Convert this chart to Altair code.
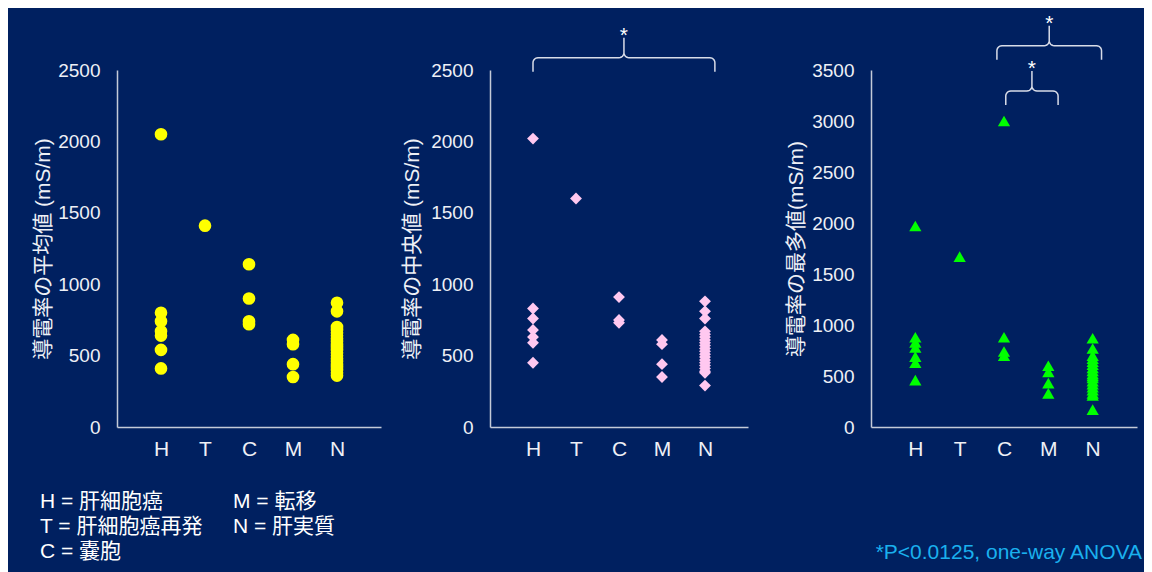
import math
import altair as alt
import pandas as pd

# ---------------- data ----------------
categories = ["H", "T", "C", "M", "N"]

mean_H = [2050, 800, 740, 670, 640, 540, 410]
mean_T = [1410]
mean_C = [1140, 900, 740, 720]
mean_M = [610, 580, 440, 350]
mean_N = [870, 810, 700, 680, 660, 640, 620, 600, 580, 560, 540, 520, 500,
          480, 460, 440, 420, 400, 380, 360]

median_H = [2020, 830, 760, 680, 630, 590, 450]
median_T = [1600]
median_C = [910, 750, 730]
median_M = [610, 580, 440, 350]
median_N = [880, 810, 760, 670, 650, 630, 610, 590, 570, 550, 530, 510, 490,
            470, 450, 430, 410, 390, 380, 290]

mode_H = [1970, 880, 830, 780, 690, 630, 460]
mode_T = [1670]
mode_C = [3000, 880, 740, 700]
mode_M = [600, 540, 430, 330]
mode_N = [870, 770, 700, 670, 640, 610, 580, 550, 520, 500, 480, 450, 420,
          390, 360, 330, 310, 170]

mean_ticks = [0, 500, 1000, 1500, 2000, 2500]
median_ticks = [0, 500, 1000, 1500, 2000, 2500]
mode_ticks = [0, 500, 1000, 1500, 2000, 2500, 3000, 3500]

mean_title = "導電率の平均値 (mS/m)"
median_title = "導電率の中央値 (mS/m)"
mode_title = "導電率の最多値(mS/m)"

# significance brackets: (from category index, to category index, level)
median_brackets = [(0.0, 4.23, 2586)]
mode_brackets = [(1.84, 4.2, 3738), (2.04, 3.22, 3294)]

legend_col1 = ["H = 肝細胞癌", "T = 肝細胞癌再発", "C = 嚢胞"]
legend_col2 = ["M = 転移", "N = 肝実質"]
note_text = "*P<0.0125, one-way ANOVA"

# ---------------- style ----------------
BG = "#002060"
AXIS_C = "#c4cad8"
TEXT_C = "#eef0f6"
FONT = "Liberation Sans, Noto Sans CJK JP"
PH = 357          # plot height
TOP = 62          # extent above plot
BOTTOM = 502      # extent below plot top

label_expr = "[" + ",".join("'%s'" % c for c in categories) + "][datum.value]"


def make_df(groups):
    rows = []
    for i, vals in enumerate(groups):
        for v in vals:
            rows.append({"idx": i, "value": v})
    return pd.DataFrame(rows)


def brace_df(brackets, px_x, px_y, drop=14, rise=20, r=5, n=6):
    rows = []
    for g, (lo, hi, lvl) in enumerate(brackets):
        rx, ry = r / px_x, r / px_y
        dd, dr = drop / px_y, rise / px_y
        xm = (lo + hi) / 2
        pts = [(lo, lvl - dd)]
        for k in range(n + 1):
            t = math.pi - (math.pi / 2) * k / n
            pts.append((lo + rx + rx * math.cos(t), lvl - ry + ry * math.sin(t)))
        for k in range(n + 1):
            t = -math.pi / 2 + (math.pi / 2) * k / n
            pts.append((xm - rx + rx * math.cos(t), lvl + ry + ry * math.sin(t)))
        pts.append((xm, lvl + dr))
        for k in range(n + 1):
            t = math.pi + (math.pi / 2) * k / n
            pts.append((xm + rx + rx * math.cos(t), lvl + ry + ry * math.sin(t)))
        for k in range(n + 1):
            t = math.pi / 2 - (math.pi / 2) * k / n
            pts.append((hi - rx + rx * math.cos(t), lvl - ry + ry * math.sin(t)))
        pts.append((hi, lvl - dd))
        for s, (x, y) in enumerate(pts):
            rows.append({"idx": x, "value": y, "seq": s, "grp": g})
    return pd.DataFrame(rows)


def panel(groups, ticks, title, color, shape, size, width, title_pad,
          left_ext, right_ext, brackets=(), extra=()):
    ymax = ticks[-1]
    xs = alt.Scale(domain=[-1, len(categories)], nice=False, zero=False)
    ys = alt.Scale(domain=[0, ymax], nice=False, zero=True)
    xenc = alt.X("idx:Q", scale=xs,
                 axis=alt.Axis(values=list(range(len(categories))),
                               labelExpr=label_expr, title=None, ticks=False,
                               grid=False, labelPadding=11, labelFontSize=21,
                               labelFlush=False))
    yenc = alt.Y("value:Q", scale=ys,
                 axis=alt.Axis(values=ticks, format="d", title=title,
                               titlePadding=title_pad, ticks=False, grid=False,
                               labelPadding=17, labelFontSize=19,
                               titleFontSize=21, titleFontWeight="normal"))
    # invisible frame fixing each panel's outer extent
    spacer = alt.Chart(pd.DataFrame({"k": [0]})).mark_rule(
        strokeOpacity=0, opacity=0).encode(
        x=alt.value(-left_ext), x2=alt.value(right_ext),
        y=alt.value(-TOP), y2=alt.value(BOTTOM))
    pts = alt.Chart(make_df(groups)).mark_point(
        filled=True, shape=shape, size=size, color=color, opacity=1,
        strokeWidth=0).encode(x=xenc, y=yenc)
    layers = [spacer, pts]
    if brackets:
        px_x = width / (len(categories) + 1)
        px_y = PH / ymax
        bd = brace_df(brackets, px_x, px_y)
        layers.append(alt.Chart(bd).mark_line(color="#d8dce8", strokeWidth=1.5).encode(
            x=xenc, y=yenc, order="seq:Q", detail="grp:N"))
        sd = pd.DataFrame([{"idx": (lo + hi) / 2, "value": lvl + 16 / px_y}
                           for lo, hi, lvl in brackets])
        layers.append(alt.Chart(sd).mark_text(
            text="*", fontSize=21, color="#ffffff", font=FONT,
            baseline="alphabetic").encode(x=xenc, y=yenc))
    layers.extend(extra)
    return alt.layer(*layers).properties(width=width, height=PH)


one = pd.DataFrame({"k": [0]})
legend_layers = []
for i, t in enumerate(legend_col1):
    legend_layers.append(alt.Chart(one).mark_text(
        text=t, fontSize=21, color="#ffffff", font=FONT, align="left",
        baseline="middle").encode(x=alt.value(-77), y=alt.value(432 + 25 * i)))
for i, t in enumerate(legend_col2):
    legend_layers.append(alt.Chart(one).mark_text(
        text=t, fontSize=21, color="#ffffff", font=FONT, align="left",
        baseline="middle").encode(x=alt.value(116), y=alt.value(432 + 25 * i)))

note_layer = alt.Chart(one).mark_text(
    text=note_text, fontSize=21, color="#1ab0ee", font=FONT, align="right",
    baseline="middle").encode(x=alt.value(271), y=alt.value(483))

p1 = panel([mean_H, mean_T, mean_C, mean_M, mean_N], mean_ticks, mean_title,
           "#ffff00", "circle", 160, 264, 4, 109, 269, extra=legend_layers)
p2 = panel([median_H, median_T, median_C, median_M, median_N], median_ticks,
           median_title, "#ffc8f0", "diamond", 140, 258, 8, 103, 275,
           brackets=median_brackets)
p3 = panel([mode_H, mode_T, mode_C, mode_M, mode_N], mode_ticks, mode_title,
           "#00ff00", "triangle-up", 150, 266, 5, 105, 273,
           brackets=mode_brackets, extra=[note_layer])

chart = alt.hconcat(p1, p2, p3, spacing=1).properties(
    padding=0, background=BG
).configure_view(strokeWidth=0).configure_axis(
    domainColor=AXIS_C, domainWidth=1.5, labelColor=TEXT_C, titleColor=TEXT_C,
    labelFont=FONT, titleFont=FONT
)

chart.save("out.html", embed_options={"renderer": "svg", "actions": False})
